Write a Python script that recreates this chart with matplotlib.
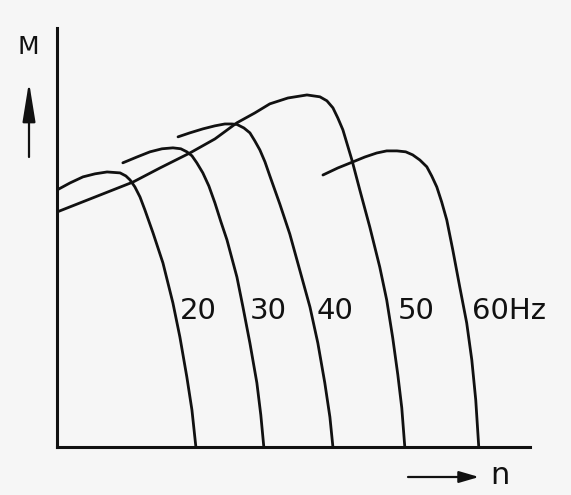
import matplotlib
matplotlib.use("Agg")
import matplotlib.pyplot as plt

# torque-speed curves of an induction motor fed at different frequencies
# n in rpm, M in % of the 50 Hz starting torque
n_20 = [0, 56, 112, 164, 216, 272, 297, 315, 336, 358, 379, 414, 457, 500, 530, 560, 582, 599]
M_20 = [109.8, 112.8, 115.4, 116.7, 117.5, 117.1, 115.8, 114.1, 111.1, 106.8, 101.3,
        91.5, 78.6, 61.5, 47, 29.9, 15.8, 0]

n_30 = [284, 345, 401, 453, 500, 534, 560, 582, 603, 629, 655, 681, 707, 733, 776,
        802, 832, 862, 879, 892]
M_30 = [121.4, 123.9, 126.1, 127.4, 127.8, 127.4, 126.1, 124.4, 121.4, 117.1, 111.5,
        104.3, 96.2, 88.5, 72.6, 59.8, 44.4, 27.4, 13.7, 0]

n_40 = [522, 573, 629, 681, 724, 754, 776, 806, 832, 853, 875, 897, 918, 961, 1004,
        1047, 1091, 1125, 1155, 1177, 1190]
M_40 = [132.5, 134.2, 135.9, 137.2, 138, 138, 137.8, 136.3, 134.2, 130.8, 126.9,
        121.8, 115.8, 103.8, 91, 75.6, 59.8, 44.4, 27.4, 12.8, 0]

n_50 = [0, 164, 328, 444, 573, 681, 776, 853, 918, 996, 1078, 1134, 1164, 1190, 1211,
        1233, 1272, 1306, 1349, 1392, 1422, 1448, 1470, 1487, 1500]
M_50 = [100.4, 106.8, 113.2, 119.2, 125.6, 131.6, 138.5, 142.7, 146.6, 149.1, 150.4,
        149.6, 147.9, 144.9, 140.6, 135.5, 122.6, 109.8, 94, 76.9, 62.8, 46.6, 30.8, 16.7, 0]

n_60 = [1147, 1211, 1276, 1328, 1379, 1422, 1466, 1504, 1534, 1565, 1595, 1616, 1638,
        1659, 1681, 1707, 1737, 1767, 1789, 1806, 1819]
M_60 = [116.2, 119.2, 121.8, 123.9, 125.6, 126.5, 126.5, 126.1, 124.8, 122.6, 119.7,
        115.8, 111.1, 104.7, 97, 84.2, 68.4, 53, 37.2, 20.1, 0]

curves = [(n_20, M_20), (n_30, M_30), (n_40, M_40), (n_50, M_50), (n_60, M_60)]
freq_labels = ["20", "30", "40", "50", "60Hz"]
label_n = [530, 832, 1121, 1470, 1789]
label_M = 58

ink = "#111111"
paper = "#f6f6f6"

fig = plt.figure(figsize=(5.71, 4.95), dpi=100, facecolor=paper)
ax = fig.add_axes([57 / 571, 48 / 495, 473 / 571, 419 / 495])
ax.set_facecolor(paper)

for n, M in curves:
    ax.plot(n, M, color=ink, lw=2.0, solid_joinstyle="round", solid_capstyle="round")

for txt, xn in zip(freq_labels, label_n):
    ax.text(xn, label_M, txt, ha="left", va="center", fontsize=21,
            family=["DejaVu Sans"], color=ink)

ax.set_xlim(0, 2040)
ax.set_ylim(0, 179)
for s in ["top", "right"]:
    ax.spines[s].set_visible(False)
for s in ["left", "bottom"]:
    ax.spines[s].set_linewidth(2.2)
    ax.spines[s].set_color(ink)
ax.set_xticks([])
ax.set_yticks([])

# axis arrows and symbols
ax.annotate("", xy=(29, 413), xytext=(29, 338), xycoords="figure pixels",
            textcoords="figure pixels",
            arrowprops=dict(arrowstyle="-|>,head_length=1.6,head_width=0.26",
                            mutation_scale=15, color=ink, lw=1.6,
                            shrinkA=0, shrinkB=0))
ax.annotate("", xy=(479, 18), xytext=(408, 18), xycoords="figure pixels",
            textcoords="figure pixels",
            arrowprops=dict(arrowstyle="-|>,head_length=1.2,head_width=0.35",
                            mutation_scale=10, color=ink, lw=1.6,
                            shrinkA=0, shrinkB=0))
fig.text(28 / 571, 448 / 495, "M", ha="center", va="center", fontsize=18,
         family=["DejaVu Sans"], color=ink)
fig.text(500 / 571, 20 / 495, "n", ha="center", va="center", fontsize=22,
         family=["DejaVu Sans"], color=ink)

fig.savefig("out.png", dpi=100, facecolor=paper)
